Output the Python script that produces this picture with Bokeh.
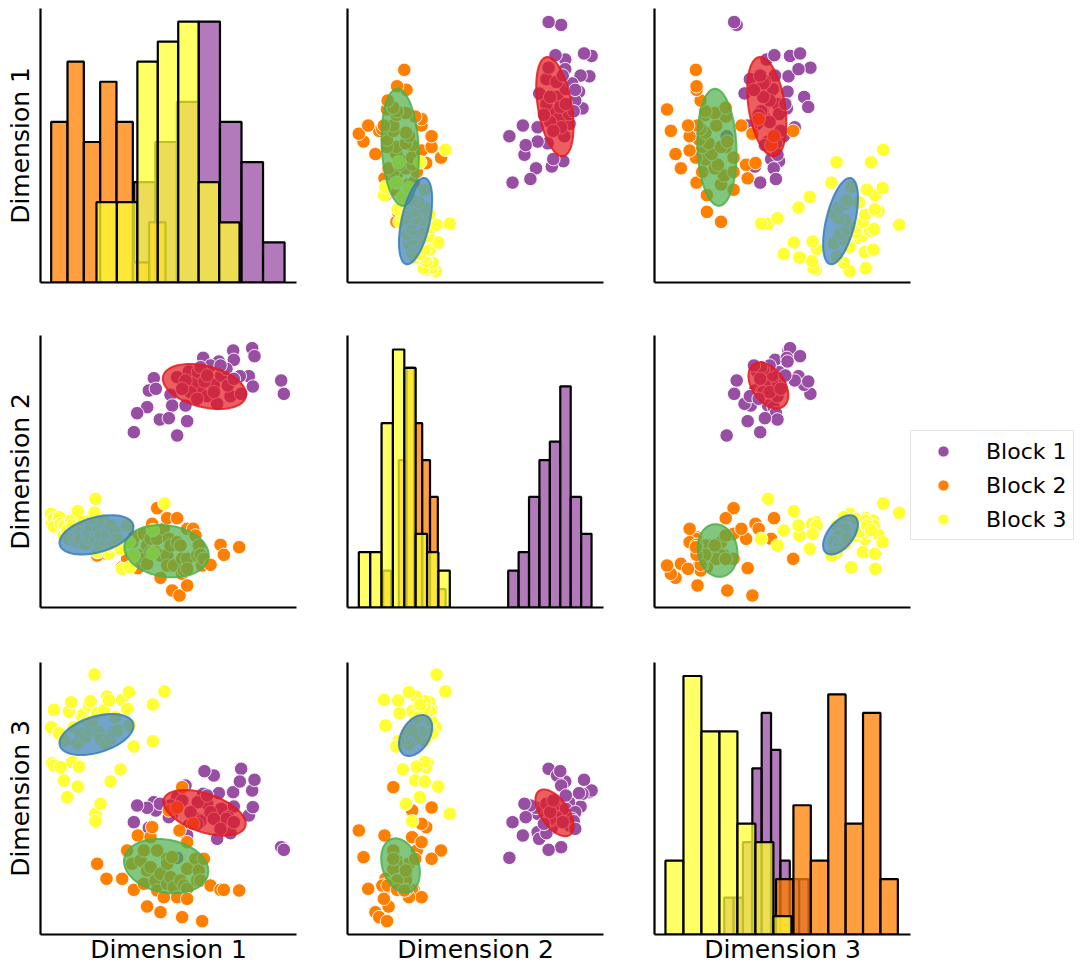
import numpy as np
from bokeh.plotting import figure
from bokeh.models import Range1d, FixedTicker, Legend, LegendItem
from bokeh.layouts import row, column
from bokeh.embed import file_html
from bokeh.resources import INLINE

block_names = ["Block 1", "Block 2", "Block 3"]
block_colors = ["#984ea3", "#ff7f00", "#ffff33"]
ellipse_colors = ["#e41a1c", "#4daf4a", "#377eb8"]
dim_labels = ["Dimension 1", "Dimension 2", "Dimension 3"]
dim_limits = [(12.0, 88.8), (0.0, 81.6), (0.0, 81.6)]

# ---- Block 1 (purple) ----
b1_d1 = [69.8, 75.5, 76.2, 70.0, 60.8, 65.5, 46.0, 44.5, 46.6, 53.0, 56.5, 51.0, 51.5, 55.5, 44.0, 41.0,
         47.8, 50.5, 56.0, 40.0, 53.0, 60.0, 62.0, 65.0, 69.0, 72.2, 74.5, 75.7, 84.2, 85.0, 71.8, 64.0,
         58.0, 59.2, 66.2, 61.2, 68.2, 55.5, 63.0, 67.8, 60.0, 64.0, 70.0, 57.0, 66.0, 59.0, 62.0, 54.5]
b1_d2 = [77.1, 77.8, 75.4, 74.3, 74.9, 73.8, 68.8, 65.1, 65.6, 69.1, 70.8, 63.8, 60.6, 60.6, 60.1, 58.3,
         56.4, 56.8, 55.9, 52.6, 51.6, 65.1, 63.4, 61.1, 63.4, 64.1, 69.4, 66.3, 68.1, 64.1, 69.4, 66.8,
         67.4, 70.6, 69.6, 67.8, 66.6, 68.1, 72.6, 71.6, 72.1, 64.6, 68.6, 64.6, 72.6, 62.6, 69.6, 65.6]
b1_d3 = [42.7, 43.2, 46.4, 38.4, 42.2, 42.4, 39.7, 32.0, 37.2, 41.2, 32.7, 38.7, 36.2, 30.7, 38.0, 38.7,
         39.2, 35.2, 29.7, 33.7, 23.0, 34.4, 39.2, 28.7, 30.4, 49.7, 35.7, 38.2, 26.2, 25.4, 45.9, 47.7,
         35.2, 39.7, 37.7, 49.0, 35.2, 44.7, 36.7, 34.7, 34.0, 34.7, 33.7, 36.7, 31.7, 33.2, 41.7, 40.2]

# ---- Block 2 (orange) ----
b2_d1 = [29.0, 31.8, 36.5, 38.0, 39.5, 40.0, 41.2, 42.0, 43.0, 43.0, 44.0, 44.0, 45.0, 45.0, 45.5, 46.5,
         47.0, 47.0, 48.0, 48.0, 49.0, 50.5, 50.0, 50.0, 50.0, 51.5, 51.0, 52.0, 53.0, 53.0, 53.7, 54.0,
         54.5, 54.5, 55.0, 56.0, 56.0, 56.0, 56.0, 57.8, 58.5, 59.0, 59.5, 60.0, 60.5, 61.0, 63.0, 66.0,
         67.0, 71.6]
b2_d2 = [15.6, 16.1, 12.1, 14.6, 19.6, 21.1, 11.8, 15.6, 22.1, 14.6, 13.1, 18.6, 20.6, 16.6, 25.1, 16.6,
         29.8, 20.6, 8.9, 15.6, 23.6, 20.6, 26.8, 15.6, 12.6, 5.1, 18.6, 12.6, 26.8, 19.6, 3.6, 18.6,
         10.1, 14.6, 11.1, 6.6, 14.6, 11.6, 23.6, 23.6, 21.6, 15.6, 18.6, 15.8, 12.6, 14.6, 12.8, 18.8,
         15.8, 18.1]
b2_d3 = [21.2, 16.7, 16.7, 25.2, 21.2, 13.4, 29.7, 22.2, 25.2, 15.2, 8.4, 19.2, 29.2, 20.2, 32.2, 16.2,
         25.2, 13.2, 6.7, 18.2, 11.2, 37.2, 22.7, 21.2, 15.2, 23.2, 17.2, 14.2, 38.1, 11.2, 31.2, 16.2,
         5.2, 44.2, 14.7, 13.7, 19.7, 10.7, 27.7, 33.2, 22.7, 16.2, 19.2, 16.2, 4.0, 22.7, 14.7, 13.4,
         13.4, 13.2]

# ---- Block 3 (yellow) ----
b3_d1 = [15.2, 15.5, 16.0, 16.0, 17.5, 18.0, 19.0, 19.2, 20.0, 20.5, 21.2, 21.5, 22.0, 23.0, 23.2, 23.5,
         24.0, 24.5, 25.0, 25.5, 26.0, 26.5, 27.0, 27.0, 27.5, 28.2, 28.5, 28.5, 29.0, 29.5, 30.0, 30.0,
         31.0, 31.5, 32.0, 32.5, 33.0, 33.0, 34.0, 34.5, 35.0, 36.0, 36.5, 38.0, 38.5, 38.8, 45.7, 45.7,
         49.2, 40.0]
b3_d2 = [28.1, 25.6, 26.8, 24.3, 27.1, 25.1, 21.6, 24.6, 23.1, 20.6, 26.1, 24.6, 20.6, 19.6, 28.9, 22.1,
         20.6, 24.6, 25.8, 19.1, 21.6, 22.6, 24.6, 20.6, 26.6, 28.4, 32.6, 20.6, 16.6, 23.6, 21.6, 18.6,
         26.1, 19.6, 21.8, 16.1, 24.6, 18.6, 19.1, 22.6, 20.6, 17.6, 11.6, 24.6, 19.6, 12.1, 23.2, 16.3,
         31.2, 15.6]
b3_d3 = [62.2, 51.4, 67.4, 50.7, 60.4, 50.2, 46.2, 58.2, 41.2, 67.0, 69.7, 51.7, 62.2, 57.2, 44.4, 50.4,
         60.4, 65.2, 66.2, 59.2, 64.2, 68.7, 70.0, 61.2, 64.2, 78.0, 36.2, 34.0, 66.4, 60.7, 58.7, 39.2,
         67.2, 57.2, 71.4, 70.2, 45.9, 58.7, 60.7, 65.2, 61.2, 49.5, 70.4, 67.7, 72.7, 62.7, 69.0, 58.0,
         72.9, 56.4]

# ---- diagonal histograms: bin edges and counts (purple, orange, yellow) ----
h11_b1_edges = [40.0, 46.46, 52.92, 59.38, 65.84, 72.3, 78.76, 85.22]
h11_b1_counts = [5, 7, 9, 13, 8, 6, 2]
h11_b2_edges = [15.2, 20.1, 25.0, 29.9, 34.8, 39.7, 44.6, 49.5]
h11_b2_counts = [8, 11, 7, 10, 8, 1, 3]
h11_b3_edges = [28.8, 34.93, 41.06, 47.19, 53.32, 59.45, 65.58, 71.71]
h11_b3_counts = [4, 4, 11, 12, 13, 5, 3]

h22_b1_edges = [51.22, 54.54, 57.86, 61.18, 64.50, 67.82, 71.15, 74.47, 77.79]
h22_b1_counts = [2, 3, 6, 8, 9, 12, 6, 4]
h22_b2_edges = [11.37, 13.86, 16.35, 18.83, 21.32, 23.81, 26.30, 28.79, 31.27]
h22_b2_counts = [2, 0, 8, 13, 10, 8, 6, 1]
h22_b3_edges = [3.61, 7.24, 10.86, 14.48, 18.11, 21.73, 25.36, 28.98, 32.61]
h22_b3_counts = [3, 3, 10, 14, 13, 4, 3, 2]

h33_b1_edges = [22.22, 25.21, 28.19, 31.18, 34.16, 37.15, 40.13, 43.12, 46.10, 49.09]
h33_b1_counts = [2, 2, 5, 9, 12, 10, 4, 3, 3]
h33_b2_edges = [38.73, 44.28, 49.83, 55.38, 60.92, 66.47, 72.02, 77.57]
h33_b2_counts = [3, 7, 4, 13, 6, 12, 3]
h33_b3_edges = [3.49, 9.23, 14.96, 20.70, 26.43, 32.17, 37.90, 43.64]
h33_b3_counts = [4, 14, 11, 11, 6, 5, 1]

hist_count_max = [13.65, 14.76, 14.73]

# ---- fitted-component ellipses per panel: (cx, cy, half-extent x, half-extent y, rho), red/green/blue ----
ell_r1c2 = [(66.1, 61.3, 5.95, 13.9, -0.40), (16.8, 49.9, 5.95, 16.4, -0.15), (21.7, 29.2, 5.3, 12.1, 0.50)]
ell_r1c3 = [(35.8, 61.3, 6.24, 13.9, -0.34), (19.9, 49.9, 6.24, 16.4, -0.10), (59.3, 29.2, 5.56, 12.1, 0.53)]
ell_r2c1 = [(61.2, 66.3, 12.5, 6.75, -0.35), (49.8, 16.9, 12.65, 7.85, -0.15), (28.8, 21.8, 11.1, 5.9, 0.40)]
ell_r2c3 = [(36.3, 66.6, 6.35, 6.9, -0.42), (20.1, 17.1, 6.35, 7.9, -0.10), (59.3, 21.8, 5.56, 5.9, 0.53)]
ell_r3c1 = [(61.2, 36.5, 12.35, 6.85, -0.48), (49.7, 20.5, 12.65, 8.15, -0.18), (28.8, 60.0, 11.1, 6.15, 0.42)]
ell_r3c2 = [(66.0, 36.5, 6.1, 7.0, -0.56), (16.9, 20.7, 6.16, 8.15, -0.26), (21.7, 59.7, 5.3, 6.15, 0.40)]

# ------------------------------------------------------------------
blocks = [[b1_d1, b1_d2, b1_d3], [b2_d1, b2_d2, b2_d3], [b3_d1, b3_d2, b3_d3]]
hists = {
    0: [(h11_b1_edges, h11_b1_counts), (h11_b2_edges, h11_b2_counts), (h11_b3_edges, h11_b3_counts)],
    1: [(h22_b1_edges, h22_b1_counts), (h22_b2_edges, h22_b2_counts), (h22_b3_edges, h22_b3_counts)],
    2: [(h33_b1_edges, h33_b1_counts), (h33_b2_edges, h33_b2_counts), (h33_b3_edges, h33_b3_counts)],
}
ellipses = {(0, 1): ell_r1c2, (0, 2): ell_r1c3, (1, 0): ell_r2c1,
            (1, 2): ell_r2c3, (2, 0): ell_r3c1, (2, 1): ell_r3c2}

FONT = "DejaVu Sans"
frame_h = [274, 272, 272]
border_bottom = [45, 47, 39]
dim_ranges = [Range1d(*lim) for lim in dim_limits]

t = np.linspace(0, 2 * np.pi, 120)
legend_renderers = []
figs = [[None] * 3 for _ in range(3)]

for r in range(3):
    for c in range(3):
        if r == c:
            yr = Range1d(0, hist_count_max[r])
        else:
            yr = dim_ranges[r]
        p = figure(x_range=dim_ranges[c], y_range=yr, frame_width=256, frame_height=frame_h[r],
                   min_border_left=40, min_border_right=11, min_border_top=8,
                   min_border_bottom=border_bottom[r], toolbar_location=None,
                   output_backend="svg", background_fill_color="white")
        p.grid.visible = False
        p.outline_line_color = None
        for ax in (p.xaxis[0], p.yaxis[0]):
            ax.ticker = FixedTicker(ticks=[])
            ax.axis_line_width = 2.2
            ax.axis_line_color = "black"
            ax.major_tick_line_color = None
            ax.minor_tick_line_color = None
            ax.axis_label_text_font = FONT
            ax.axis_label_text_font_size = "25px"
            ax.axis_label_text_font_style = "normal"
            ax.axis_label_text_color = "black"
        if c == 0:
            p.yaxis.axis_label = dim_labels[r]
            p.yaxis.axis_label_standoff = 6
        if r == 2:
            p.xaxis.axis_label = dim_labels[c]
            p.xaxis.axis_label_standoff = 0

        if r == c:
            for b in range(3):
                edges, counts = hists[r][b]
                left = [edges[i] for i in range(len(counts)) if counts[i] > 0]
                right = [edges[i + 1] for i in range(len(counts)) if counts[i] > 0]
                top = [counts[i] for i in range(len(counts)) if counts[i] > 0]
                p.quad(left=left, right=right, bottom=0, top=top, fill_color=block_colors[b],
                       fill_alpha=0.75, line_color="black", line_width=2.2)
        else:
            rends = []
            for b in range(3):
                rd = p.scatter(x=blocks[b][c], y=blocks[b][r], size=13.5, marker="circle",
                               fill_color=block_colors[b], line_color="white", line_width=0.9)
                rends.append(rd)
            for k, (cx, cy, hx, hy, rho) in enumerate(ellipses[(r, c)]):
                ex = cx + hx * np.cos(t)
                ey = cy + hy * (rho * np.cos(t) + np.sqrt(1 - rho ** 2) * np.sin(t))
                p.patch(ex, ey, fill_color=ellipse_colors[k], fill_alpha=0.7,
                        line_color=ellipse_colors[k], line_alpha=0.85, line_width=2)
            if (r, c) == (1, 2):
                legend_renderers = rends
        figs[r][c] = p

legend = Legend(items=[LegendItem(label=block_names[b], renderers=[legend_renderers[b]]) for b in range(3)],
                location=(0, 67), margin=0, padding=6, spacing=6, glyph_width=52, glyph_height=28,
                label_standoff=17, label_text_font=FONT, label_text_font_size="22px",
                label_text_color="black", border_line_color="#cccccc", border_line_width=1.5,
                background_fill_color="white", background_fill_alpha=1.0)
figs[1][2].add_layout(legend, "right")

layout = column(*[row(*figs[r], spacing=0) for r in range(3)], spacing=0)
open("out.html", "w").write(file_html(layout, INLINE))
